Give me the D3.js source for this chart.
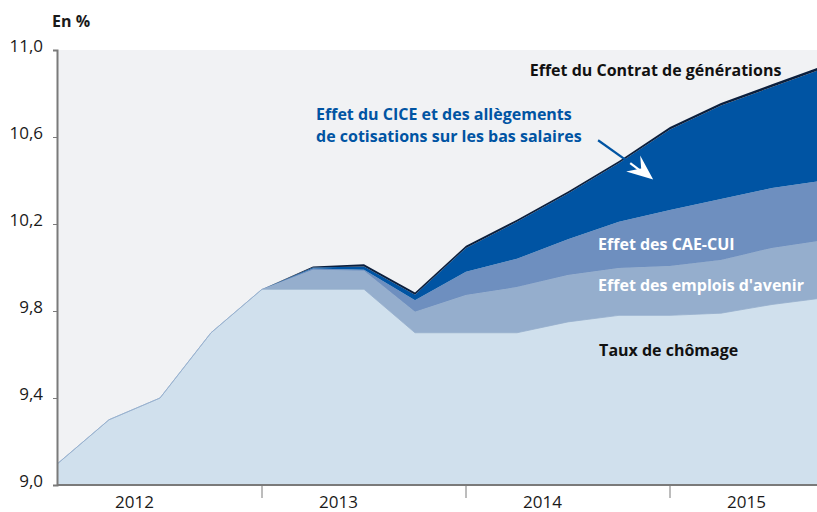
<!DOCTYPE html>
<html>
<head>
<meta charset="utf-8">
<script src="https://cdn.jsdelivr.net/npm/d3@7"></script>
<style>
  body { margin: 0; background: #fff; }
  svg text { font-family: "Open Sans", sans-serif; }
</style>
</head>
<body>
<div id="chart"></div>
<script>
// Quarters 2012T1 .. 2015T4
const years = ["2012", "2013", "2014", "2015"];
const quarters = d3.range(16);

// Taux de chômage (niveau, en %)
const chomage = [9.1, 9.3, 9.4, 9.7, 9.9, 9.9, 9.9, 9.7, 9.7, 9.7, 9.75, 9.78, 9.78, 9.79, 9.83, 9.86];
// effets (en points)
const effetAvenir = [0, 0, 0, 0, 0, 0.09, 0.085, 0.097, 0.174, 0.21, 0.216, 0.218, 0.227, 0.244, 0.26, 0.265];
const effetCaeCui = [0, 0, 0, 0, 0, 0.005, 0.005, 0.053, 0.106, 0.13, 0.164, 0.212, 0.257, 0.281, 0.275, 0.275];
const effetCice = [0, 0, 0, 0, 0, 0.005, 0.015, 0.025, 0.11, 0.17, 0.21, 0.27, 0.371, 0.43, 0.465, 0.515];
const effetContrat = [0, 0, 0, 0, 0, 0.005, 0.01, 0.01, 0.01, 0.01, 0.01, 0.01, 0.011, 0.011, 0.012, 0.012];

const yTicks = [9.0, 9.4, 9.8, 10.2, 10.6, 11.0];

const series = [
    { key: "chomage", values: chomage, color: "#d0e0ed", edge: 0.6 },
    { key: "avenir", values: effetAvenir, color: "#95aecd", edge: 0.8 },
    { key: "cae", values: effetCaeCui, color: "#6e8fbf", edge: 0 },
    { key: "cice", values: effetCice, color: "#0054a3", edge: 0 },
    { key: "contrat", values: effetContrat, color: "#0b1f3d", edge: 0 }
];

const width = 817;
const height = 512;
const margin = { top: 50, right: 0, bottom: 27, left: 57 };

const svg = d3.select("#chart").append("svg")
    .attr("width", width)
    .attr("height", height);

// Scales (last quarter falls just outside the frame)
const x = d3.scaleLinear().domain([0, 15]).range([58, 823]);
const y = d3.scaleLinear().domain([9, 11]).range([height - margin.bottom, margin.top]);

// plot background
svg.append("rect")
    .attr("x", margin.left)
    .attr("y", margin.top)
    .attr("width", width - margin.left - margin.right)
    .attr("height", height - margin.top - margin.bottom)
    .attr("fill", "#f1f2f4");

svg.append("clipPath").attr("id", "plot-clip")
    .append("rect")
    .attr("x", margin.left)
    .attr("y", margin.top)
    .attr("width", width - margin.left - margin.right)
    .attr("height", height - margin.top - margin.bottom);

// Stack the layers
const table = quarters.map(i => {
    const row = { q: i };
    series.forEach(s => { row[s.key] = s.values[i]; });
    return row;
});
const stacked = d3.stack().keys(series.map(s => s.key))(table);

const area = d3.area()
    .x(d => x(d.data.q))
    .y0(d => y(Math.max(d[0], 9)))
    .y1(d => y(d[1]));

svg.append("g")
    .attr("clip-path", "url(#plot-clip)")
    .selectAll("path")
    .data(stacked)
    .join("path")
    .attr("d", area)
    .attr("fill", (d, i) => series[i].color)
    .attr("stroke", (d, i) => series[i].edge ? series[i].color : "none")
    .attr("stroke-width", (d, i) => series[i].edge);

// Y axis
const yAxis = svg.append("g")
    .attr("transform", `translate(${margin.left},0)`)
    .call(d3.axisLeft(y).tickValues(yTicks).tickSize(4).tickPadding(10)
        .tickFormat(d => d3.format(".1f")(d).replace(".", ",")));
yAxis.select(".domain").attr("stroke", "#7a7a7a").attr("stroke-width", 2);
yAxis.selectAll(".tick line").attr("stroke", "#7a7a7a");
yAxis.selectAll(".tick text")
    .attr("font-size", 17)
    .attr("fill", "#1a1a1a")
    .attr("dy", "0.1em");

// X axis: year boundaries and labels
const xAxis = svg.append("g")
    .attr("transform", `translate(0,${height - margin.bottom})`);
xAxis.append("line")
    .attr("x1", margin.left)
    .attr("x2", width)
    .attr("stroke", "#7a7a7a")
    .attr("stroke-width", 2);
xAxis.selectAll(".ytick")
    .data(years.slice(1))
    .join("line")
    .attr("x1", (d, i) => x((i + 1) * 4))
    .attr("x2", (d, i) => x((i + 1) * 4))
    .attr("y1", 0)
    .attr("y2", 13)
    .attr("stroke", "#7a7a7a");
xAxis.selectAll(".ylabel")
    .data(years)
    .join("text")
    .attr("x", (d, i) => x(i * 4 + 1.5))
    .attr("y", 23)
    .attr("text-anchor", "middle")
    .attr("font-size", 17)
    .attr("fill", "#1a1a1a")
    .text(d => d);

// Unit
svg.append("text")
    .attr("x", 52)
    .attr("y", 27)
    .attr("font-size", 16)
    .attr("font-weight", "bold")
    .attr("fill", "#1a1a1a")
    .text("En %");

// Annotations
function label(txt, xi, yv, color) {
    return svg.append("text")
        .attr("x", x(xi))
        .attr("y", y(yv))
        .attr("font-size", 16)
        .attr("font-weight", "bold")
        .attr("fill", color)
        .text(txt);
}
label("Effet du Contrat de générations", 9.25, 10.88, "#111");
label("Effet du CICE et des allègements", 5.06, 10.676, "#0054a3");
label("de cotisations sur les bas salaires", 5.06, 10.575, "#0054a3");
label("Effet des CAE-CUI", 10.59, 10.08, "#fff");
label("Effet des emplois d'avenir", 10.59, 9.89, "#fff");
label("Taux de chômage", 10.61, 9.593, "#111");

// Arrow towards the CICE layer
const arrowStart = [10.59, 10.585];
const arrowMid = [11.22, 10.48];
const arrowTip = [11.67, 10.405];
svg.append("line")
    .attr("x1", x(arrowStart[0])).attr("y1", y(arrowStart[1]))
    .attr("x2", x(arrowMid[0])).attr("y2", y(arrowMid[1]))
    .attr("stroke", "#0054a3").attr("stroke-width", 2.2);
svg.append("line")
    .attr("x1", x(arrowMid[0])).attr("y1", y(arrowMid[1]))
    .attr("x2", x(arrowTip[0]) - 8).attr("y2", y(arrowTip[1]) - 5)
    .attr("stroke", "#fff").attr("stroke-width", 2.2);
const tx = x(arrowTip[0]), ty = y(arrowTip[1]);
svg.append("path")
    .attr("d", `M${tx},${ty} L${tx - 27},${ty - 8} L${tx - 12},${ty - 11} L${tx - 13},${ty - 24} Z`)
    .attr("fill", "#fff");
</script>
</body>
</html>
